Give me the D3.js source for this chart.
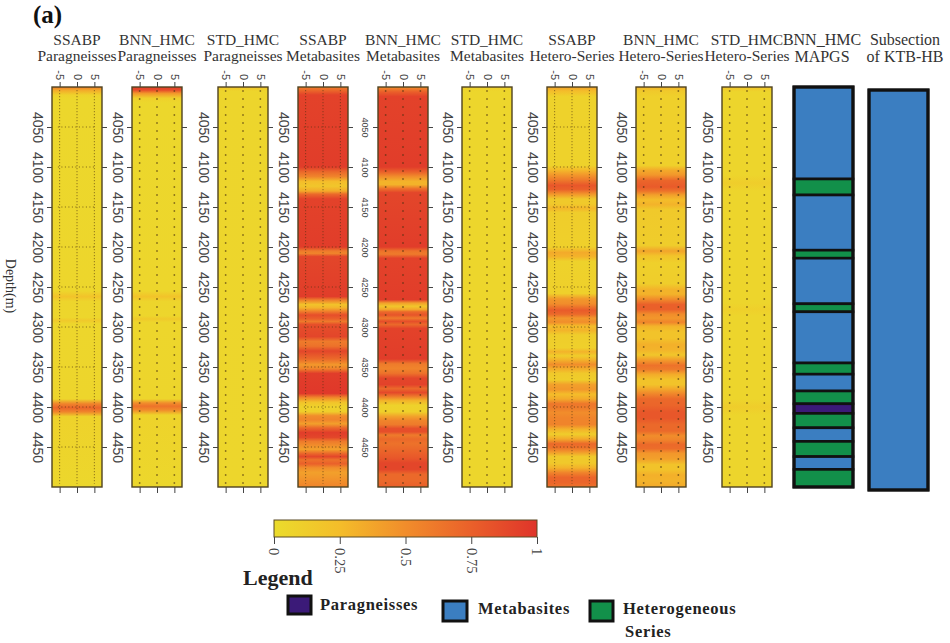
<!DOCTYPE html>
<html>
<head>
<meta charset="utf-8">
<script src="https://cdn.jsdelivr.net/npm/d3@7/dist/d3.min.js"></script>
<style>
  body { margin: 0; background: #fff; }
  svg { display: block; }
</style>
</head>
<body>
<svg id="chart" width="950" height="643"></svg>
<script>
// ---- data ----
const depthTicks = [4050, 4100, 4150, 4200, 4250, 4300, 4350, 4400, 4450];
const offsetTicks = [-5, 0, 5];
const colorTicks = [0, 0.25, 0.5, 0.75, 1];

// Probability profiles: [depth (m), value 0..1]
const ssabpParagneisses = [[4000,0.6],[4004,0.35],[4010,0.08],[4015,0.04],[4255,0.05],[4262,0.2],[4268,0.06],[4288,0.05],[4292,0.15],[4296,0.05],[4390,0.06],[4396,0.55],[4401,0.72],[4406,0.55],[4412,0.08],[4500,0.04]];
const bnnParagneisses = [[4000,0.95],[4004,0.85],[4008,0.45],[4014,0.1],[4020,0.04],[4255,0.05],[4262,0.2],[4268,0.06],[4286,0.05],[4290,0.15],[4294,0.05],[4390,0.06],[4395,0.5],[4399,0.65],[4404,0.5],[4410,0.07],[4500,0.04]];
const stdParagneisses = [[4000,0.2],[4005,0.06],[4500,0.05]];
const ssabpMetabasites = [[4000,0.6],[4004,0.7],[4010,0.92],[4100,0.95],[4106,0.7],[4112,0.55],[4118,0.25],[4124,0.18],[4130,0.35],[4134,0.7],[4140,0.92],[4200,0.95],[4205,0.6],[4208,0.55],[4212,0.9],[4262,0.95],[4266,0.6],[4272,0.2],[4276,0.3],[4280,0.55],[4285,0.85],[4290,0.75],[4293,0.6],[4297,0.85],[4312,0.9],[4318,0.6],[4324,0.65],[4330,0.9],[4340,0.7],[4347,0.45],[4352,0.55],[4358,0.95],[4383,0.98],[4388,0.55],[4394,0.2],[4400,0.08],[4406,0.12],[4411,0.5],[4416,0.55],[4421,0.4],[4426,0.7],[4432,0.95],[4438,0.9],[4443,0.6],[4448,0.5],[4453,0.4],[4458,0.7],[4462,0.9],[4466,0.65],[4471,0.75],[4476,0.5],[4482,0.4],[4488,0.45],[4494,0.5],[4500,0.55]];
const bnnMetabasites = [[4000,0.5],[4006,0.75],[4012,0.92],[4100,0.95],[4106,0.75],[4112,0.5],[4118,0.3],[4122,0.3],[4127,0.65],[4132,0.9],[4200,0.95],[4205,0.65],[4209,0.6],[4214,0.92],[4266,0.95],[4270,0.4],[4274,0.18],[4278,0.35],[4281,0.7],[4285,0.82],[4289,0.6],[4293,0.85],[4297,0.7],[4302,0.92],[4340,0.95],[4346,0.6],[4352,0.55],[4358,0.65],[4364,0.9],[4372,0.92],[4377,0.7],[4382,0.88],[4387,0.6],[4392,0.3],[4398,0.08],[4406,0.1],[4412,0.4],[4417,0.55],[4422,0.6],[4427,0.85],[4431,0.85],[4435,0.6],[4440,0.7],[4446,0.65],[4452,0.7],[4458,0.75],[4464,0.8],[4470,0.9],[4478,0.9],[4484,0.7],[4492,0.7],[4500,0.75]];
const stdMetabasites = [[4000,0.1],[4006,0.05],[4500,0.05]];
const ssabpHetero = [[4000,0.4],[4005,0.25],[4012,0.08],[4098,0.08],[4103,0.25],[4110,0.45],[4116,0.6],[4123,0.8],[4128,0.75],[4134,0.45],[4140,0.15],[4146,0.15],[4152,0.28],[4157,0.12],[4200,0.1],[4207,0.35],[4212,0.3],[4218,0.08],[4258,0.1],[4265,0.45],[4271,0.5],[4279,0.78],[4284,0.7],[4289,0.45],[4294,0.5],[4299,0.25],[4304,0.3],[4310,0.12],[4326,0.1],[4331,0.3],[4336,0.12],[4341,0.3],[4347,0.5],[4352,0.35],[4358,0.15],[4366,0.12],[4372,0.4],[4378,0.45],[4384,0.25],[4390,0.35],[4396,0.62],[4401,0.6],[4407,0.5],[4414,0.55],[4422,0.55],[4428,0.3],[4434,0.12],[4440,0.35],[4446,0.7],[4451,0.65],[4456,0.45],[4462,0.15],[4470,0.15],[4476,0.3],[4482,0.55],[4488,0.72],[4494,0.72],[4500,0.65]];
const bnnHetero = [[4000,0.3],[4005,0.15],[4012,0.1],[4098,0.1],[4104,0.35],[4110,0.45],[4117,0.72],[4125,0.78],[4130,0.65],[4135,0.4],[4141,0.25],[4147,0.3],[4153,0.15],[4198,0.12],[4205,0.38],[4211,0.2],[4220,0.1],[4246,0.12],[4253,0.3],[4259,0.3],[4265,0.5],[4272,0.75],[4278,0.75],[4284,0.5],[4289,0.45],[4294,0.55],[4299,0.3],[4306,0.2],[4314,0.2],[4322,0.32],[4328,0.3],[4335,0.18],[4342,0.45],[4348,0.65],[4353,0.6],[4359,0.35],[4366,0.2],[4372,0.2],[4377,0.35],[4384,0.55],[4390,0.7],[4398,0.72],[4406,0.8],[4414,0.8],[4422,0.7],[4430,0.7],[4436,0.5],[4441,0.55],[4447,0.7],[4452,0.68],[4458,0.45],[4465,0.4],[4472,0.2],[4478,0.2],[4485,0.32],[4492,0.3],[4500,0.35]];
const stdHetero = [[4000,0.2],[4006,0.06],[4110,0.06],[4120,0.12],[4130,0.06],[4270,0.06],[4278,0.1],[4286,0.06],[4390,0.06],[4400,0.12],[4410,0.06],[4500,0.06]];

const panelTitles = [
  ["SSABP", "Paragneisses"], ["BNN_HMC", "Paragneisses"], ["STD_HMC", "Paragneisses"],
  ["SSABP", "Metabasites"], ["BNN_HMC", "Metabasites"], ["STD_HMC", "Metabasites"],
  ["SSABP", "Hetero-Series"], ["BNN_HMC", "Hetero-Series"], ["STD_HMC", "Hetero-Series"]
];
const panelProfiles = [
  ssabpParagneisses, bnnParagneisses, stdParagneisses,
  ssabpMetabasites, bnnMetabasites, stdMetabasites,
  ssabpHetero, bnnHetero, stdHetero
];

// Lithology classes and MAPGS column
const lithNames = ["Paragneisses", "Metabasites", "Heterogeneous Series"];
const mapgsTop  = [4000, 4115, 4135, 4204, 4214, 4271, 4281, 4345, 4359, 4380, 4396, 4408, 4426, 4443, 4462, 4478];
const mapgsBase = [4115, 4135, 4204, 4214, 4271, 4281, 4345, 4359, 4380, 4396, 4408, 4426, 4443, 4462, 4478, 4500];
const mapgsLith = ["Metabasites","Heterogeneous Series","Metabasites","Heterogeneous Series","Metabasites","Heterogeneous Series","Metabasites","Heterogeneous Series","Metabasites","Heterogeneous Series","Paragneisses","Heterogeneous Series","Metabasites","Heterogeneous Series","Metabasites","Heterogeneous Series"];
const ktbTop = [4000];
const ktbBase = [4500];
const ktbLith = ["Metabasites"];

// ---- layout & style ----
const panelLeft = [52, 132, 218, 298, 378, 462, 547, 636, 722];
const panelWidth = 50;
const labelSize = [14, 14, 14, 14, 9, 14, 14, 14, 14];
const serif = "'Liberation Serif', 'Times New Roman', serif";
const sans = "'Liberation Sans', Arial, sans-serif";

const svg = d3.select("#chart");
const defs = svg.append("defs");

const yScale = d3.scaleLinear().domain([4000, 4500]).range([87, 487]);
const color = d3.scaleLinear()
  .domain([0, 0.25, 0.5, 0.75, 1])
  .range(["#ebdc2c", "#f4bd2a", "#f18d2b", "#ea602a", "#df342a"]);
const lithColor = d3.scaleOrdinal().domain(lithNames).range(["#3b1a78", "#3b7ec1", "#12904a"]);

svg.append("rect").attr("width", 950).attr("height", 643).attr("fill", "#fff");

// panel label "(a)"
svg.append("text").attr("x", 33).attr("y", 23)
  .attr("font-family", serif).attr("font-weight", "bold").attr("font-size", 25)
  .attr("fill", "#111").text("(a)");

// depth axis title
svg.append("text")
  .attr("transform", "translate(11,286) rotate(90)")
  .attr("text-anchor", "middle").attr("dy", "0.35em")
  .attr("font-family", serif).attr("font-size", 14).attr("fill", "#333")
  .text("Depth(m)");

// ---- heat-map panels ----
panelProfiles.forEach((profile, i) => {
  const g = svg.append("g").attr("transform", `translate(${panelLeft[i]},0)`);
  const x = d3.scaleLinear().domain([-7.2, 7.2]).range([0, panelWidth]);
  const [y0, y1] = yScale.range();

  const gid = "profile" + i;
  defs.append("linearGradient")
    .attr("id", gid).attr("gradientUnits", "userSpaceOnUse")
    .attr("x1", 0).attr("x2", 0).attr("y1", y0).attr("y2", y1)
    .selectAll("stop").data(profile).join("stop")
    .attr("offset", d => (yScale(d[0]) - y0) / (y1 - y0))
    .attr("stop-color", d => color(d[1]));

  g.append("rect").attr("x", 0).attr("y", y0)
    .attr("width", panelWidth).attr("height", y1 - y0)
    .attr("fill", `url(#${gid})`);

  // sample grid (dotted)
  const dense = panelTitles[i][0] === "SSABP";
  g.append("g").selectAll("line").data(offsetTicks).join("line")
    .attr("x1", d => x(d)).attr("x2", d => x(d))
    .attr("y1", yScale(4004)).attr("y2", yScale(4496))
    .attr("stroke", "#4a3010").attr("stroke-opacity", dense ? 0.7 : 0.75)
    .attr("stroke-width", dense ? 1 : 1.5)
    .attr("stroke-dasharray", dense ? "1,2" : "1.5,6.5");
  if (dense) {
    g.append("g").selectAll("line").data(depthTicks).join("line")
      .attr("x1", x(-5.5)).attr("x2", x(5.5))
      .attr("y1", d => yScale(d)).attr("y2", d => yScale(d))
      .attr("stroke", "#4a3010").attr("stroke-opacity", 0.7)
      .attr("stroke-dasharray", "1,2.5");
  }

  g.append("rect").attr("x", 0).attr("y", y0)
    .attr("width", panelWidth).attr("height", y1 - y0)
    .attr("fill", "none").attr("stroke", "#4f4220").attr("stroke-width", 1.4);

  // depth axis (left, labelled)
  const left = g.append("g")
    .call(d3.axisLeft(yScale).tickValues(depthTicks).tickSize(5).tickFormat(d3.format("d")));
  left.select(".domain").remove();
  left.selectAll("line").attr("stroke", "#444");
  left.selectAll("text")
    .attr("x", 0).attr("y", 0).attr("dy", "0.35em")
    .attr("text-anchor", "middle")
    .attr("transform", `translate(${labelSize[i] < 12 ? -13 : -14},0) rotate(90)`)
    .attr("font-family", sans).attr("font-size", labelSize[i]).attr("fill", "#444");

  // depth axis (right, ticks only)
  const right = g.append("g").attr("transform", `translate(${panelWidth},0)`)
    .call(d3.axisRight(yScale).tickValues(depthTicks).tickSize(5).tickFormat(""));
  right.select(".domain").remove();
  right.selectAll("line").attr("stroke", "#444");

  // offset axis (top, labelled)
  const top = g.append("g").attr("transform", `translate(0,${y0})`)
    .call(d3.axisTop(x).tickValues(offsetTicks).tickSize(5).tickFormat(d => String(d)));
  top.select(".domain").remove();
  top.selectAll("line").attr("stroke", "#444");
  top.selectAll("text")
    .attr("x", 0).attr("y", 0).attr("dy", "0.35em")
    .attr("text-anchor", "end")
    .attr("transform", "translate(0,-7) rotate(90)")
    .attr("font-family", sans).attr("font-size", 11).attr("fill", "#444");

  // offset axis (bottom, ticks only)
  const bottom = g.append("g").attr("transform", `translate(0,${y1})`)
    .call(d3.axisBottom(x).tickValues(offsetTicks).tickSize(6).tickFormat(""));
  bottom.select(".domain").remove();
  bottom.selectAll("line").attr("stroke", "#444");

  // title
  const t = svg.append("text").attr("text-anchor", "middle")
    .attr("font-family", serif).attr("font-size", 15.5).attr("fill", "#333");
  t.append("tspan").attr("x", panelLeft[i] + panelWidth / 2).attr("y", 45).text(panelTitles[i][0]);
  t.append("tspan").attr("x", panelLeft[i] + panelWidth / 2).attr("y", 61).text(panelTitles[i][1]);
});

// ---- lithology columns ----
function lithColumn(left, width, tops, bases, liths, shift, titleX, titleLines) {
  const g = svg.append("g").attr("transform", `translate(${left},${shift})`);
  g.selectAll("rect.unit").data(tops.map((t, k) => ({ top: t, base: bases[k], lith: liths[k] })))
    .join("rect").attr("class", "unit")
    .attr("x", 0).attr("width", width)
    .attr("y", d => yScale(d.top)).attr("height", d => yScale(d.base) - yScale(d.top))
    .attr("fill", d => lithColor(d.lith))
    .attr("stroke", "#111").attr("stroke-width", 2.6);
  g.append("rect").attr("x", 0).attr("y", yScale(4000))
    .attr("width", width).attr("height", yScale(4500) - yScale(4000))
    .attr("fill", "none").attr("stroke", "#111").attr("stroke-width", 3.2);
  const t = svg.append("text").attr("text-anchor", "middle")
    .attr("font-family", serif).attr("font-size", 16).attr("fill", "#333");
  t.append("tspan").attr("x", titleX).attr("y", 45).text(titleLines[0]);
  t.append("tspan").attr("x", titleX).attr("y", 62).text(titleLines[1]);
}
lithColumn(794, 59, mapgsTop, mapgsBase, mapgsLith, 0, 822, ["BNN_HMC", "MAPGS"]);
lithColumn(869, 59, ktbTop, ktbBase, ktbLith, 3, 905, ["Subsection", "of KTB-HB"]);

// ---- colour bar ----
const cbX = d3.scaleLinear().domain([0, 1]).range([274, 537]);
defs.append("linearGradient").attr("id", "cbar")
  .attr("gradientUnits", "userSpaceOnUse")
  .attr("x1", cbX(0)).attr("x2", cbX(1)).attr("y1", 0).attr("y2", 0)
  .selectAll("stop").data(colorTicks).join("stop")
  .attr("offset", d => d)
  .attr("stop-color", d => color(d));
svg.append("rect").attr("x", cbX(0)).attr("y", 520)
  .attr("width", cbX(1) - cbX(0)).attr("height", 17)
  .attr("fill", "url(#cbar)").attr("stroke", "#5a4a24").attr("stroke-width", 1);
const cbAxis = svg.append("g").attr("transform", "translate(0,537)")
  .call(d3.axisBottom(cbX).tickValues(colorTicks).tickSize(7).tickFormat(d => String(d)));
cbAxis.select(".domain").remove();
cbAxis.selectAll("line").attr("stroke", "#444");
cbAxis.selectAll("text")
  .attr("x", 0).attr("y", 0).attr("dy", "0.35em")
  .attr("text-anchor", "start")
  .attr("transform", "translate(0,11) rotate(90)")
  .attr("font-family", serif).attr("font-size", 14.5).attr("fill", "#444");

// ---- legend ----
svg.append("text").attr("x", 243).attr("y", 585)
  .attr("font-family", serif).attr("font-weight", "bold").attr("font-size", 22)
  .attr("fill", "#222").text("Legend");
const legendBoxes = [
  { x: 288, y: 596, w: 23, h: 18, tx: 320, ty: 610 },
  { x: 443, y: 601, w: 24, h: 20, tx: 478, ty: 614 },
  { x: 590, y: 601, w: 23, h: 20, tx: 623, ty: 614 }
];
lithNames.forEach((name, k) => {
  const b = legendBoxes[k];
  svg.append("rect").attr("x", b.x).attr("y", b.y).attr("width", b.w).attr("height", b.h)
    .attr("fill", lithColor(name)).attr("stroke", "#111").attr("stroke-width", 3);
  const words = name === "Heterogeneous Series" ? ["Heterogeneous", "Series"] : [name];
  const t = svg.append("text").attr("font-family", serif).attr("font-weight", "bold")
    .attr("font-size", 16.5).attr("letter-spacing", 0.7).attr("fill", "#222");
  words.forEach((w, j) => {
    t.append("tspan").attr("x", b.tx + (j ? 2 : 0)).attr("y", b.ty + j * 23).text(w);
  });
});
</script>
</body>
</html>
